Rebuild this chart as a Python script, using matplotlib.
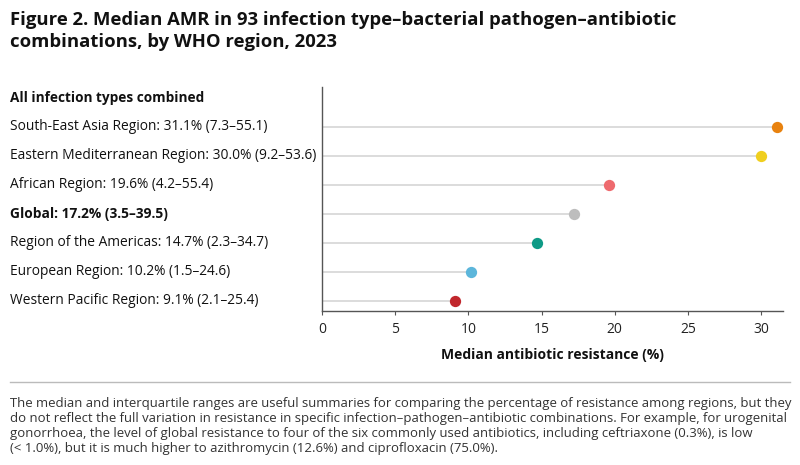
import matplotlib
matplotlib.use("Agg")
import matplotlib.pyplot as plt
from matplotlib.transforms import blended_transform_factory

header = "All infection types combined"
regions = ["South-East Asia Region", "Eastern Mediterranean Region", "African Region",
           "Global", "Region of the Americas", "European Region", "Western Pacific Region"]
medians = [31.1, 30.0, 19.6, 17.2, 14.7, 10.2, 9.1]
iqr_low = [7.3, 9.2, 4.2, 3.5, 2.3, 1.5, 2.1]
iqr_high = [55.1, 53.6, 55.4, 39.5, 34.7, 24.6, 25.4]
colors = ["#e8820f", "#f0cf1f", "#ee6a6e", "#bdbdbd", "#0e9a86", "#5cb6db", "#c1272d"]
xticks = [0, 5, 10, 15, 20, 25, 30]

title = ("Figure 2. Median AMR in 93 infection type\u2013bacterial pathogen\u2013antibiotic\n"
         "combinations, by WHO region, 2023")
note = ("The median and interquartile ranges are useful summaries for comparing the percentage of resistance among regions, but they\n"
        "do not reflect the full variation in resistance in specific infection\u2013pathogen\u2013antibiotic combinations. For example, for urogenital\n"
        "gonorrhoea, the level of global resistance to four of the six commonly used antibiotics, including ceftriaxone (0.3%), is low\n"
        "(< 1.0%), but it is much higher to azithromycin (12.6%) and ciprofloxacin (75.0%).")

plt.rcParams['font.family'] = ['Open Sans', 'DejaVu Sans']

fig = plt.figure(figsize=(8, 4.65), dpi=100)
W, H = 800, 465
ax = fig.add_axes([322 / W, 1 - 311 / H, (783 - 322) / W, (311 - 87) / H])

ys = list(range(1, len(regions) + 1))
for y, v, c in zip(ys, medians, colors):
    ax.plot([0, v], [y, y], color="#d9d9d9", lw=1.3, zorder=1, solid_capstyle="butt")
    ax.scatter([v], [y], s=66, color=c, zorder=3, linewidths=0, clip_on=False)

ax.set_xlim(0, 31.5)
ax.set_ylim(7.35, -0.38)
ax.set_xticks(xticks)
ax.set_xticklabels([str(t) for t in xticks], fontsize=10, color="#222222")
ax.set_yticks([])
for s in ["top", "right"]:
    ax.spines[s].set_visible(False)
for s in ["left", "bottom"]:
    ax.spines[s].set_color("#555555")
    ax.spines[s].set_linewidth(1.0)
ax.tick_params(axis="x", length=3, width=0.8, color="#555555", pad=5)
ax.set_xlabel("Median antibiotic resistance (%)", fontsize=10, fontweight="bold",
              color="#111111", labelpad=8)

bt = blended_transform_factory(fig.transFigure, ax.transData)
fig.text(10 / W, 0, header, transform=bt, fontsize=9.8, fontweight="bold",
         color="#111111", va="center", ha="left")
for y, r, m, lo, hi in zip(ys, regions, medians, iqr_low, iqr_high):
    lab = f"{r}: {m:.1f}% ({lo:.1f}\u2013{hi:.1f})"
    fig.text(10 / W, y, lab, transform=bt, fontsize=9.9,
             fontweight="bold" if r == "Global" else "normal",
             color="#111111", va="center", ha="left")

fig.text(10 / W, 1 - 11 / H, title, fontsize=13.3, fontweight="bold",
         color="#111111", va="top", ha="left", linespacing=1.28)

fig.add_artist(plt.Line2D([10 / W, 790 / W], [1 - 382 / H, 1 - 382 / H],
                          color="#bbbbbb", lw=1.0, transform=fig.transFigure))
fig.text(10 / W, 1 - 397 / H, note, fontsize=9.45,
         color="#333333", va="top", ha="left", linespacing=1.2)

fig.savefig("out.png", dpi=100)
